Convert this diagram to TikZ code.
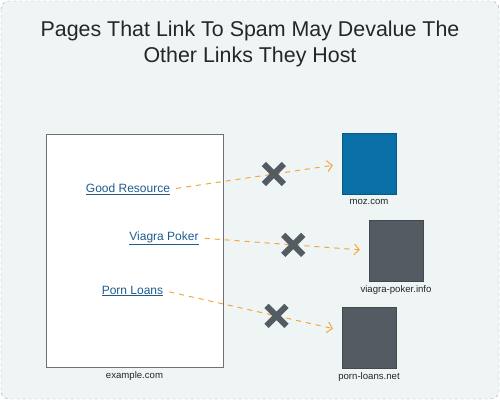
\documentclass[tikz,border=0pt]{standalone}
\usepackage{fontspec}
\setmainfont{Liberation Sans}
\usetikzlibrary{arrows.meta,shapes.misc}

\definecolor{panelbg}{HTML}{EFF5F5}
\definecolor{panelrule}{HTML}{A3A7A9}
\definecolor{titleink}{HTML}{23262A}
\definecolor{pagerule}{HTML}{6E7276}
\definecolor{linkblue}{HTML}{1F5C8E}
\definecolor{mozblue}{HTML}{0A6FA6}
\definecolor{spamgray}{HTML}{555B63}
\definecolor{linkorange}{HTML}{F4A53E}

\begin{document}
\begin{tikzpicture}[
  x=1pt, y=-1pt,
  link/.style={text=linkblue, font=\fontsize{12}{14}\selectfont, inner sep=2pt},
  site/.style={draw=spamgray!80!black, fill=spamgray, minimum width=54pt, minimum height=61pt, inner sep=0pt},
  caption/.style={font=\fontsize{9.6}{11}\selectfont, text=titleink, inner sep=1pt},
  spamlink/.style={draw=linkorange, line width=1pt, dash pattern=on 5pt off 5pt,
    -{Straight Barb[length=5pt, width=11pt]}, shorten <=4pt, shorten >=9pt},
  nope/.style={cross out, draw=spamgray, solid, -, shorten <=0pt, shorten >=0pt,
    line width=6pt, minimum size=14pt, inner sep=0pt},
]
% Panel
\useasboundingbox (0,0) rectangle (500,400);
\draw[panelrule, fill=panelbg, dashed, rounded corners=8pt] (1,1) rectangle (499,399);

% Title
\node[font=\fontsize{21.4}{26}\selectfont, text=titleink, align=center] (title) at (250,44)
  {Pages That Link To Spam May Devalue The\\Other Links They Host};

% The linking page
\node[draw=pagerule, fill=white, minimum width=177pt, minimum height=233pt, inner sep=0pt] (page) at (134.5,250.5) {};
\node[caption, below=3pt] (pagename) at (page.south) {example.com};

% Links on the page
\node[link] (good) at (128,189) {\underline{Good Resource}};
\node[link] (viagra) at (164,238) {\underline{Viagra Poker}};
\node[link] (porn) at (132.5,291) {\underline{Porn Loans}};

% Sites they point to
\node[site, fill=mozblue, draw=mozblue!80!black] (mozsite) at (369,164) {};
\node[site] (pokersite) at (396,250.5) {};
\node[site] (loansite) at (369,337.5) {};
\node[caption, below=3pt] at (mozsite.south) {moz.com};
\node[caption, below=3pt] at (pokersite.south) {viagra-poker.info};
\node[caption, below=3pt] at (loansite.south) {porn-loans.net};

% Devalued links
\draw[spamlink] (good.east) -- node[nope, pos=0.6] (nogood) {} (mozsite.west);
\draw[spamlink] (viagra.east) -- node[nope, pos=0.55] (noviagra) {} (pokersite.west);
\draw[spamlink] (porn.east) -- node[nope, pos=0.63] (noporn) {} ([yshift=7pt]loansite.west);

\end{tikzpicture}
\end{document}
